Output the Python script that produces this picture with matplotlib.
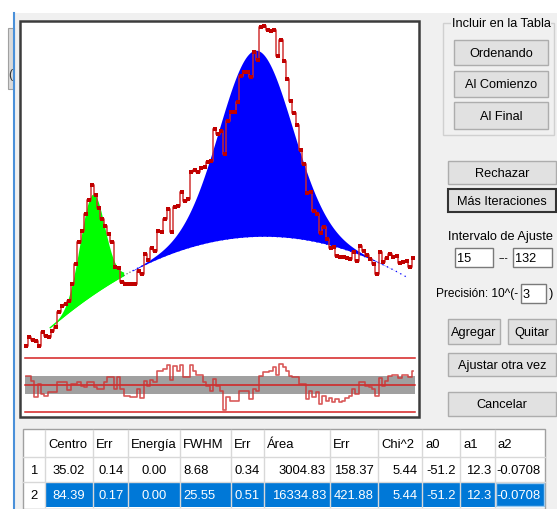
import numpy as np
import matplotlib.pyplot as plt
from matplotlib import font_manager
from matplotlib.patches import Rectangle

# a narrow sans looks closest to the dialog font; fall back to Liberation Sans
installed = {f.name for f in font_manager.fontManager.ttflist}
if 'Liberation Sans Narrow' in installed:
    plt.rcParams['font.family'] = ['Liberation Sans Narrow', 'DejaVu Sans']
    FS_UI, FS_TAB = 10.8, 10.8
else:
    plt.rcParams['font.family'] = ['Liberation Sans', 'DejaVu Sans']
    FS_UI, FS_TAB = 9.2, 9.4

# spectrum counts, channels 15..132
channels = np.arange(15, 133)
counts = [130, 157, 149, 146, 130, 173, 162, 159, 176, 189,
          238, 257, 265, 275, 329, 394, 465, 501, 555, 600,
          648, 616, 573, 539, 515, 490, 465, 383, 380, 335,
          329, 329, 329, 329, 372, 360, 425, 405, 446, 437,
          501, 496, 539, 571, 496, 578, 582, 625, 598, 603,
          689, 697, 689, 704, 705, 722, 727, 829, 813, 824,
          748, 855, 883, 883, 915, 1001, 1014, 1012, 996, 1078,
          1052, 1159, 1162, 1150, 1146, 1148, 1064, 1117, 1050, 990,
          920, 882, 842, 760, 716, 622, 625, 566, 555, 492,
          512, 474, 446, 448, 419, 417, 415, 412, 410, 431,
          403, 453, 435, 423, 410, 394, 360, 431, 400, 412,
          426, 417, 418, 396, 399, 404, 383, 412]

# normalised residuals of the fit
residuals = [0.96, 0.96, 0.48, -1.37, 0.11, -1.00, -1.19, -0.81, -0.81, -0.81,
             0.37, 0.37, 0.30, -0.52, 0.11, 0.11, 0.37, -0.07, -0.26, 0.37,
             0.37, -0.26, -0.44, -0.44, 0.30, 0.85, 0.85, -0.44, 0.85, -0.44,
             -1.19, -1.19, -1.37, -1.37, -0.44, -1.48, 0.48, -0.07, 0.59, 0.30,
             1.59, 1.59, 1.78, 2.22, 0.59, 2.15, 1.59, 2.22, 0.85, 0.85,
             2.22, 1.59, 1.11, 1.11, 0.30, -0.07, -0.63, 0.67, -0.07, -0.63,
             -2.78, -1.37, -1.74, -1.74, -1.74, -0.63, -0.63, -0.63, -1.56, -0.44,
             -0.63, 1.04, 1.41, 1.41, 1.59, 1.96, 1.11, 2.33, 1.96, 1.59,
             1.04, 0.85, 0.85, 0.11, 0.11, -1.56, -0.63, -1.37, -0.81, -2.11,
             -1.19, -1.74, -1.48, -1.93, -1.56, -1.85, -1.74, -1.48, -1.19, -0.44,
             -1.00, 0.37, 0.30, -0.07, -0.26, -0.44, -1.19, 0.74, -0.07, 0.48,
             0.96, 1.11, 1.11, 0.74, 1.11, 1.11, 0.85, 1.59]

# fit results (one row per peak)
centro = [35.02, 84.39]
centro_err = [0.14, 0.17]
energia = [0.00, 0.00]
fwhm = [8.68, 25.55]
fwhm_err = [0.34, 0.51]
area = [3004.83, 16334.83]
area_err = [158.37, 421.88]
chi2 = [5.44, 5.44]
a0, a1, a2 = -51.2, 12.3, -0.0708

W, H = 557, 510
fig = plt.figure(figsize=(W / 100, H / 100), dpi=100)
fig.patch.set_facecolor('#f0f0f0')

ui = fig.add_axes([0, 0, 1, 1])
ui.set_xlim(0, W)
ui.set_ylim(H, 0)
ui.axis('off')


def px_axes(x0, y0, x1, y1):
    ax = fig.add_axes([x0 / W, 1 - y1 / H, (x1 - x0) / W, (y1 - y0) / H])
    ax.axis('off')
    return ax


def rect(x0, y0, x1, y1, fc='none', ec='none', lw=1.0, z=1):
    ui.add_patch(Rectangle((x0, y0), x1 - x0, y1 - y0, facecolor=fc,
                           edgecolor=ec, lw=lw, zorder=z))


def label(x, y, s, ha='center', size=None, color='black', **kw):
    ui.text(x, y, s, ha=ha, va='center', fontsize=size or FS_UI, color=color,
            zorder=3, **kw)


def button(x0, y0, x1, y1, s, ec='#adadad', lw=1.0):
    rect(x0, y0, x1, y1, fc='#e1e1e1', ec=ec, lw=lw)
    label((x0 + x1) / 2, (y0 + y1) / 2 + 0.5, s)


def textbox(x0, y0, x1, y1, s):
    rect(x0, y0, x1, y1, fc='white', ec='#7a7a7a')
    label(x0 + 2, (y0 + y1) / 2 + 0.5, s, ha='left')


# window edges
rect(0, 0, W, 14, fc='white')
rect(0, 0, 13, H, fc='white')
ui.plot([14, 14], [14, H], color='#4a90d9', lw=1.5)
rect(8, 29, 14, 90, fc='#dadada', ec='#a0a0a0', lw=0.8)
label(8, 75, '(', ha='left', size=9, color='#333333')

# plot frame
rect(20, 21.5, 419, 418, fc='white', ec='#3c3c3c', lw=1.8)

# right panel
rect(443, 24, 554, 136, ec='#d0d0d0', lw=1.0)
label(501, 24, 'Incluir en la Tabla', bbox=dict(fc='#f0f0f0', ec='none', pad=0.3))
button(454, 41, 548, 66, 'Ordenando')
button(454, 72, 548, 98, 'Al Comienzo')
button(454, 103, 548, 130, 'Al Final')
button(448, 162, 556, 185, 'Rechazar')
button(448, 190, 556, 213, 'Más Iteraciones', ec='#333333', lw=1.5)
label(501, 237, 'Intervalo de Ajuste')
textbox(455, 249, 493, 268, '15')
label(503, 258, '---', size=7)
textbox(513, 249, 552, 268, '132')
label(518, 294, 'Precisión: 10^(-', ha='right', size=FS_UI * 0.93)
textbox(521, 285, 546, 304, '3')
label(549, 294, ')', ha='left')
button(448, 320, 500, 345, 'Agregar')
button(508, 320, 556, 345, 'Quitar')
button(448, 354, 556, 377, 'Ajustar otra vez')
button(448, 393, 556, 417, 'Cancelar')

# spectrum with the fitted peaks
ax = px_axes(21, 23, 418, 355)
ax.set_xlim(13.49, 133.43)
ax.set_ylim(103.2, 1174.2)


def background(x):
    return a0 + a1 * x + a2 * x ** 2


def gauss(x, c, w, s):
    sig = w / (2 * np.sqrt(2 * np.log(2)))
    return s / (sig * np.sqrt(2 * np.pi)) * np.exp(-(x - c) ** 2 / (2 * sig ** 2))


x1 = np.linspace(22.3, 44.5, 300)
ax.fill_between(x1, background(x1), background(x1) + gauss(x1, centro[0], fwhm[0], area[0]),
                color='#00ff00', lw=0)
ax.plot(x1, background(x1), color='#00ff00', lw=0.9)
xm = np.linspace(44.5, 47.2, 20)
ax.plot(xm, background(xm), color='#555555', lw=0.8, ls=(0, (1, 2)))
x2 = np.linspace(47.2, 130, 800)
ax.fill_between(x2, background(x2), background(x2) + gauss(x2, centro[1], fwhm[1], area[1]),
                color='#0000ff', lw=0)
ax.plot(x2, background(x2), color='#0000ff', lw=0.9, ls=(0, (1, 3)))

ax.plot(channels, counts, drawstyle='steps-mid', color='#d02828', lw=1.3, alpha=0.8)
ax.plot(channels, counts, ls='none', marker='s', ms=3.4, color='#c00000', mew=0)

# residuals panel
rx = px_axes(21, 355, 418, 417)
rx.set_xlim(13.49, 133.43)
rx.set_ylim(-3.444, 3.444)
rx.fill_between([14.7, 132.5], -1, 1, color='#a0a0a0', lw=0)
for lev in (-3, 0, 3):
    rx.plot([14.7, 132.5], [lev, lev], color='#d42020', lw=1.1)
rx.plot(channels, residuals, drawstyle='steps-mid', color='#d03030', lw=1.2, alpha=0.8)

# results table
cols = ['', 'Centro', 'Err', 'Energía', 'FWHM', 'Err', 'Área', 'Err', 'Chi^2', 'a0', 'a1', 'a2']
edges = [23, 45, 93, 128, 180, 231, 264, 330, 378, 422, 460, 495, 545]
align = ['center', 'center', 'right', 'center', 'left', 'right',
         'right', 'right', 'right', 'right', 'right', 'right']
rows_y = [431, 458, 483, 508]

rect(23, 430, 545, H, fc='white', ec='#a0a0a0', lw=1.0)
rect(45, rows_y[2], 545, rows_y[3], fc='#0078d7')
rect(496, rows_y[2] + 1, 544, rows_y[3] - 1, ec='#99c9ef', lw=1.0, z=2)
for e in edges[1:-1]:
    ui.plot([e, e], [rows_y[0], rows_y[3]], color='#d8d8d8', lw=1.0, zorder=2)
for yy in rows_y[1:3]:
    ui.plot([23, 545], [yy, yy], color='#d8d8d8', lw=1.0, zorder=2)


def cell_text(i, r, s, color='black'):
    y = (rows_y[r] + rows_y[r + 1]) / 2 + 0.5
    if r == 0 or align[i] == 'left':
        label(edges[i] + 3, y, s, ha='left', size=FS_TAB, color=color)
    elif align[i] == 'right':
        label(edges[i + 1] - 4, y, s, ha='right', size=FS_TAB, color=color)
    else:
        label((edges[i] + edges[i + 1]) / 2, y, s, size=FS_TAB, color=color)


for i, c in enumerate(cols):
    cell_text(i, 0, c)

for k in range(2):
    vals = [str(k + 1), f'{centro[k]:.2f}', f'{centro_err[k]:.2f}', f'{energia[k]:.2f}',
            f'{fwhm[k]:.2f}', f'{fwhm_err[k]:.2f}', f'{area[k]:.2f}', f'{area_err[k]:.2f}',
            f'{chi2[k]:.2f}', f'{a0:g}', f'{a1:g}', f'{a2:g}']
    for i, v in enumerate(vals):
        cell_text(i, k + 1, v, color='white' if (k == 1 and i > 0) else 'black')

fig.savefig('out.png', dpi=100, facecolor=fig.get_facecolor())
